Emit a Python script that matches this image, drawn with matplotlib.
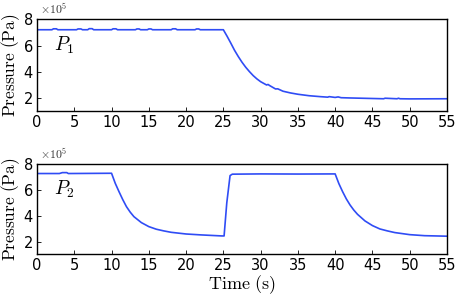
import matplotlib
matplotlib.use("Agg")
import matplotlib.pyplot as plt

# ---------- Dados (pressão em unidades de 1e5 Pa) ----------
t1 = [0, 2.0, 2.2, 2.6, 2.8, 5.3, 5.5, 5.9, 6.1, 6.8, 7.0, 7.4, 7.6, 10.0, 10.2, 10.6, 10.8,
      13.2, 13.4, 13.7, 13.9, 14.8, 15.0, 15.3, 15.5, 18.0, 18.2, 18.6, 18.8,
      21.2, 21.4, 21.7, 21.9, 25.0,
      25.5, 26, 26.5, 27, 27.5, 28, 28.5, 29, 29.5, 30, 30.8, 31.0, 31.2, 32, 32.3, 33, 34, 35,
      36.5, 38, 39, 39.2, 40, 40.4, 40.8, 42, 45, 46.5, 46.7, 48.3, 48.5, 48.7, 50, 55]
p1 = [7.19, 7.19, 7.26, 7.26, 7.19, 7.19, 7.25, 7.25, 7.19, 7.19, 7.27, 7.27, 7.19, 7.19, 7.26, 7.26, 7.19,
      7.19, 7.25, 7.25, 7.19, 7.19, 7.25, 7.25, 7.19, 7.19, 7.26, 7.26, 7.19,
      7.19, 7.25, 7.25, 7.19, 7.19,
      6.70, 6.18, 5.64, 5.17, 4.74, 4.36, 4.03, 3.73, 3.48, 3.27, 3.02, 3.06, 2.98, 2.72, 2.73, 2.55, 2.42, 2.32,
      2.21, 2.14, 2.10, 2.14, 2.08, 2.12, 2.06, 2.04, 2.00, 1.98, 2.02, 1.98, 2.02, 1.98, 1.97, 1.98]

t2 = [0, 3.0, 3.4, 4.0, 4.2, 10.0, 10.5, 11, 11.5, 12, 12.5, 13, 14, 15, 16, 17, 18, 20, 22, 24.8, 25.1,
      25.46, 25.9, 26.2, 30, 35, 40.0, 40.5, 41, 41.5, 42, 42.5, 43, 44, 45, 46, 47, 48, 50, 52, 55]
p2 = [7.26, 7.26, 7.33, 7.33, 7.26, 7.28, 6.50, 5.86, 5.25, 4.70, 4.28, 3.93, 3.47, 3.16, 2.96, 2.83, 2.72,
      2.59, 2.52, 2.44, 2.44, 4.99, 7.10, 7.21, 7.23, 7.22, 7.23, 6.48, 5.86, 5.30, 4.83, 4.44, 4.11, 3.60,
      3.24, 2.98, 2.83, 2.70, 2.54, 2.46, 2.42]

xticks = [0, 5, 10, 15, 20, 25, 30, 35, 40, 45, 50, 55]
yticks = [2, 4, 6, 8]

plt.rcParams["mathtext.fontset"] = "cm"
plt.rcParams["font.size"] = 10

fig = plt.figure(figsize=(4.57, 2.97), dpi=100)
ax1 = fig.add_axes([0.081, 0.626, 0.897, 0.310])
ax2 = fig.add_axes([0.081, 0.145, 0.897, 0.303])

for ax, t, p, nome in [(ax1, t1, p1, r"$P_1$"), (ax2, t2, p2, r"$P_2$")]:
    ax.plot(t, p, color="#2f4cf5", linewidth=1.2)
    ax.set_xlim(0, 55)
    ax.set_ylim(1.05, 8)
    ax.set_xticks(xticks)
    ax.set_yticks(yticks)
    ax.tick_params(direction="in", length=3, width=0.6, labelsize=10.5, pad=3)
    for s in ax.spines.values():
        s.set_linewidth(1.0)
    ax.set_ylabel(r"$\mathrm{Pressure\ (Pa)}$", fontsize=12.5, labelpad=1)
    ax.text(2.3, 6.0, nome, fontsize=14, va="center", ha="left")
    ax.text(0.008, 1.015, r"$\times10^5$", transform=ax.transAxes, fontsize=8.5,
            va="bottom", ha="left", color="#333333")

ax2.set_xlabel(r"$\mathrm{Time\ (s)}$", fontsize=13, labelpad=0)

fig.savefig("out.png", dpi=100)
